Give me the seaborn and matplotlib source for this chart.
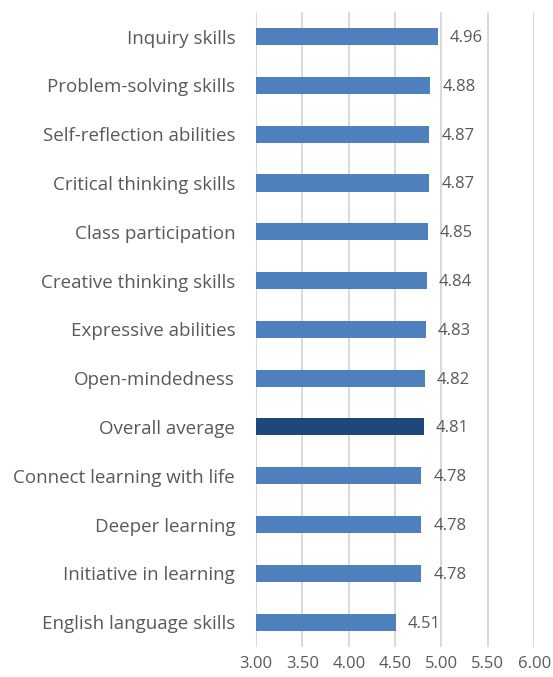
import matplotlib
matplotlib.use("Agg")
import matplotlib.pyplot as plt
import seaborn as sns
import pandas as pd

skills = [
    "Inquiry skills",
    "Problem-solving skills",
    "Self-reflection abilities",
    "Critical thinking skills",
    "Class participation",
    "Creative thinking skills",
    "Expressive abilities",
    "Open-mindedness",
    "Overall average",
    "Connect learning with life",
    "Deeper learning",
    "Initiative in learning",
    "English language skills",
]
scores = [4.96, 4.88, 4.87, 4.87, 4.85, 4.84, 4.83, 4.82, 4.81, 4.78, 4.78, 4.78, 4.51]
x_ticks = [3.00, 3.50, 4.00, 4.50, 5.00, 5.50, 6.00]

base_color = "#4E80BD"
highlight_color = "#1F477A"
text_color = "#595959"

df = pd.DataFrame({"skill": skills, "score": scores})
palette = {s: (highlight_color if s == "Overall average" else base_color) for s in skills}

sns.set_theme(style="white")
plt.rcParams["font.family"] = ["Open Sans", "DejaVu Sans"]

fig = plt.figure(figsize=(5.53, 6.77), dpi=100)
ax = fig.add_axes([0.463, 0.045, 0.503, 0.937])

ax.set_xlim(3.0, 6.0)
for t in x_ticks:
    ax.axvline(t, color="#D9D9D9", lw=1.4, zorder=0)

# bars start at the axis minimum of 3.00
sns.barplot(data=df, y="skill", x="score", hue="skill", palette=palette,
            orient="h", width=0.35, saturation=1, linewidth=0,
            legend=False, ax=ax, zorder=2)
ax.set_xlim(3.0, 6.0)
for p in ax.patches:
    w = p.get_width()
    p.set_x(3.0)
    p.set_width(w - 3.0)

for i, v in enumerate(scores):
    ax.text(v + 0.13, i + 0.03, f"{v:.2f}", va="center", ha="left",
            fontsize=12, color=text_color)

ax.set_xticks(x_ticks)
ax.set_xticklabels([f"{t:.2f}" for t in x_ticks], fontsize=12, color=text_color)
ax.tick_params(axis="x", length=0, pad=7)
ax.tick_params(axis="y", length=0, pad=15, labelsize=13.5, labelcolor=text_color)
ax.set_xlabel("")
ax.set_ylabel("")
for s in ax.spines.values():
    s.set_visible(False)

fig.savefig("out.png", dpi=100)
